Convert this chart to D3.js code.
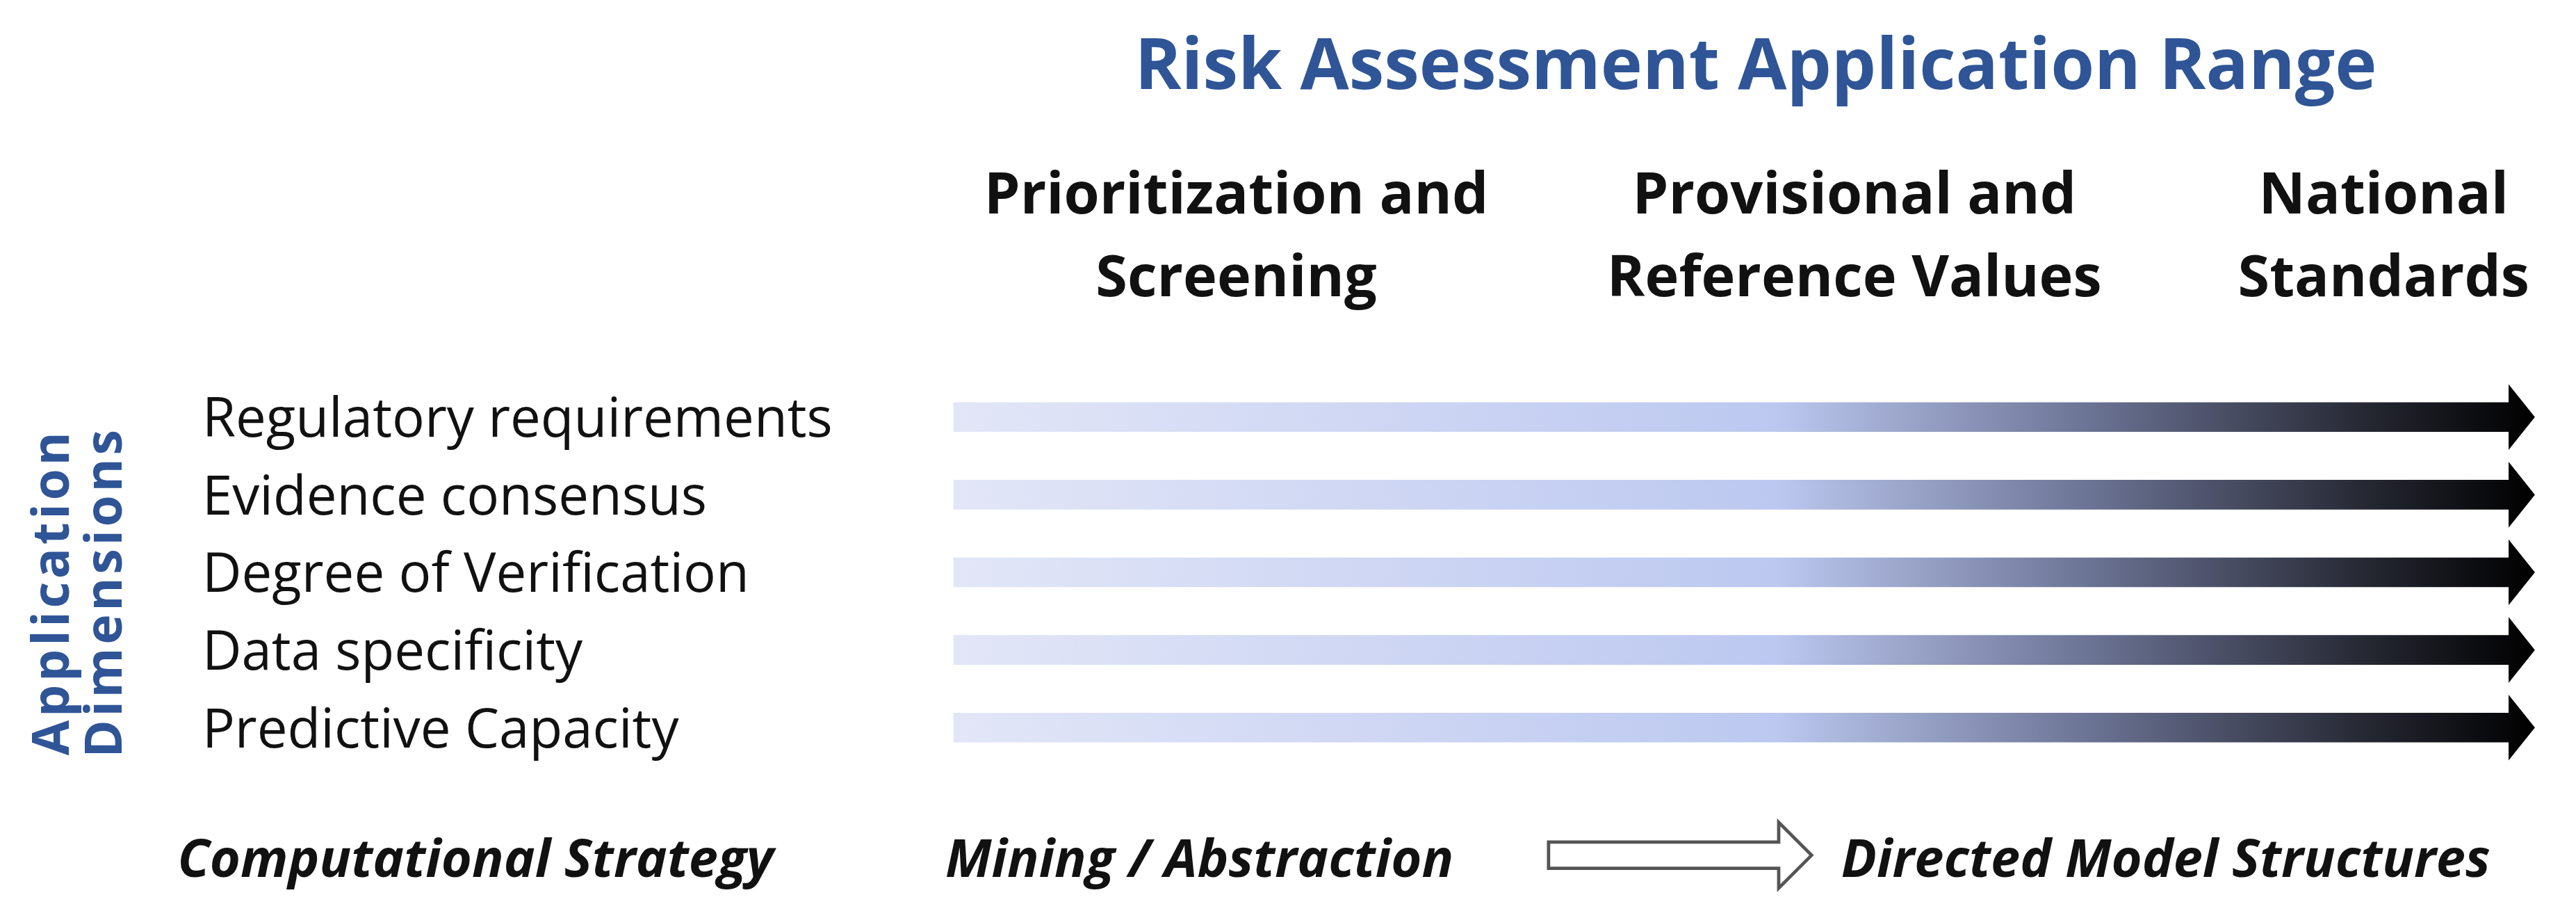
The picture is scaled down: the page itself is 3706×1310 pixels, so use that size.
<!DOCTYPE html>
<html>
<head>
<meta charset="utf-8">
<script src="https://cdn.jsdelivr.net/npm/d3@7"></script>
<style>
  body { margin: 0; background: #fff; }
  text { font-family: "Open Sans", "Noto Sans", sans-serif; }
</style>
</head>
<body>
<div id="chart"></div>
<script>
// data
const title = "Risk Assessment Application Range";
const stages = [["Prioritization and", "Screening"], ["Provisional and", "Reference Values"], ["National", "Standards"]];
const dimensions = ["Regulatory requirements", "Evidence consensus", "Degree of Verification", "Data specificity", "Predictive Capacity"];
const axisTitle = ["Application", "Dimensions"];
const strategyLabel = "Computational Strategy";
const strategyFrom = "Mining / Abstraction";
const strategyTo = "Directed Model Structures";

const W = 3706, H = 1310, k = W / 1567;

const svg = d3.select("#chart").append("svg")
    .attr("width", W).attr("height", H);
const g = svg.append("g").attr("transform", `scale(${k})`);

// gradient for the arrows
const grad = svg.append("defs").append("linearGradient")
    .attr("id", "grad").attr("x1", "0%").attr("x2", "100%");
[[0, "#e2e6f7"], [0.52, "#bcc8f0"], [0.72, "#6b7394"], [0.9, "#23252f"], [1, "#000"]]
    .forEach(([o, c]) => grad.append("stop").attr("offset", o).attr("stop-color", c));

g.append("text")
    .attr("x", 1068).attr("y", 54)
    .attr("text-anchor", "middle")
    .attr("fill", "#2f5597")
    .attr("font-size", 43).attr("font-weight", "bold")
    .text(title);

// column headers
const colX = d3.scaleOrdinal().domain(stages.map(d => d[0])).range([752, 1128, 1450]);
stages.forEach(s => {
    s.forEach((line, j) => {
        g.append("text")
            .attr("x", colX(s[0])).attr("y", 130 + j * 50)
            .attr("text-anchor", "middle")
            .attr("font-size", 35).attr("font-weight", "bold")
            .attr("fill", "#111")
            .text(line);
    });
});

// rows
const y = d3.scaleBand().domain(dimensions).range([230, 466]).padding(0);

const rows = g.selectAll(".row").data(dimensions).enter().append("g")
    .attr("class", "row")
    .attr("transform", d => `translate(0,${y(d) + y.bandwidth() / 2})`);

rows.append("text")
    .attr("x", 123).attr("y", 12)
    .attr("font-size", 33).attr("fill", "#111")
    .text(d => d);

const x0 = 580, x1 = 1526, tip = 1542, half = 9, headHalf = 20;
rows.append("path")
    .attr("d", `M${x0},${-half}H${x1}V${-headHalf}L${tip},0L${x1},${headHalf}V${half}H${x0}Z`)
    .attr("fill", "url(#grad)");

// vertical axis title
const at = g.append("text")
    .attr("transform", "translate(42,360) rotate(-90)")
    .attr("text-anchor", "middle")
    .attr("fill", "#2f5597").attr("font-size", 31).attr("font-weight", "bold")
    .attr("letter-spacing", 2);
axisTitle.forEach((t, i) => at.append("tspan").attr("x", 0).attr("dy", i ? 32 : 0).text(t));

// bottom strategy line
const bottom = [[108, strategyLabel], [575, strategyFrom], [1120, strategyTo]];
g.selectAll(".strat").data(bottom).enter().append("text")
    .attr("x", d => d[0]).attr("y", 533)
    .attr("font-size", 32).attr("font-weight", "bold").attr("font-style", "italic")
    .attr("fill", "#111")
    .text(d => d[1]);

g.append("path")
    .attr("d", "M942,512H1082V500L1102,520L1082,540V528H942Z")
    .attr("fill", "#fff").attr("stroke", "#555").attr("stroke-width", 2);
</script>
</body>
</html>
